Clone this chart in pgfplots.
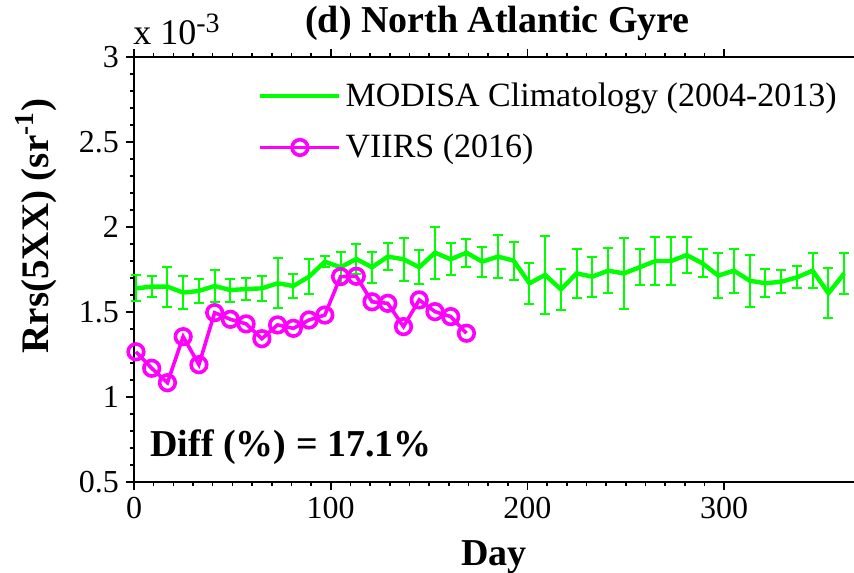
\documentclass[border=0pt]{standalone}
\usepackage{fontspec}
\setmainfont{Liberation Serif}
\usepackage{pgfplots}
\pgfplotsset{compat=1.18}
\usepackage{pgfplotstable}

\definecolor{climgreen}{RGB}{0,255,0}
\definecolor{viirsmag}{RGB}{255,0,255}

% MODISA 8-day climatology (2004-2013), Rrs in units of 1e-3 sr^-1, with std
\pgfplotstableread{
day rrs err
1   1.639 0.076
9   1.649 0.061
17  1.649 0.117
25  1.614 0.097
33  1.624 0.073
41  1.653 0.092
49  1.629 0.068
57  1.635 0.063
65  1.639 0.073
73  1.669 0.148
81  1.653 0.072
89  1.708 0.105
97  1.796 0.034
105 1.763 0.090
113 1.812 0.090
121 1.763 0.092
129 1.826 0.077
137 1.810 0.128
145 1.763 0.101
153 1.849 0.152
161 1.810 0.094
169 1.849 0.082
177 1.796 0.089
185 1.826 0.124
193 1.802 0.111
201 1.669 0.120
209 1.718 0.231
217 1.633 0.122
225 1.727 0.146
233 1.708 0.117
241 1.743 0.133
249 1.727 0.211
257 1.763 0.106
265 1.800 0.141
273 1.800 0.141
281 1.835 0.106
289 1.786 0.083
297 1.714 0.132
305 1.743 0.130
313 1.684 0.153
321 1.669 0.083
329 1.678 0.067
337 1.704 0.065
345 1.743 0.102
353 1.610 0.146
361 1.727 0.120
}\modisclim

% VIIRS 8-day composites, 2016
\pgfplotstableread{
day rrs
1   1.266
9   1.169
17  1.084
25  1.355
33  1.190
41  1.496
49  1.457
57  1.430
65  1.343
73  1.424
81  1.404
89  1.453
97  1.482
105 1.708
113 1.710
121 1.560
129 1.551
137 1.414
145 1.571
153 1.502
161 1.473
169 1.375
}\viirs

\begin{document}
\begin{tikzpicture}
\begin{axis}[
  scale only axis,
  width=360bp, height=212.5bp,
  xmin=0, xmax=366, ymin=0.5, ymax=3,
  axis x line=box, axis y line=left,
  axis line style={-, line width=1bp, black},
  xtick={0,100,200,300}, minor x tick num=9,
  ytick={0.5,1,1.5,2,2.5,3}, minor y tick num=4,
  tick align=outside,
  major tick length=4bp, minor tick length=2bp,
  every tick/.style={black, line width=0.8bp},
  tick label style={font=\fontsize{16bp}{18bp}\selectfont},
  /pgf/number format/assume math mode=true,
  clip=false,
  legend cell align=left,
  legend style={draw=none, fill=none,
    at={(axis description cs:0.172,0.95)}, anchor=north west,
    font=\fontsize{17bp}{19bp}\selectfont,
    row sep=8.5bp, inner sep=0pt},
  legend image code/.code={
    \draw[mark repeat=2, mark phase=2, #1]
      plot coordinates {(0bp,0bp) (19.75bp,0bp) (39.5bp,0bp)};
  },
]
\addplot[color=climgreen, draw=climgreen, line width=2.2bp,
  error bars/.cd, y dir=both, y explicit,
  error bar style={draw=climgreen, color=climgreen, line width=1bp},
  error mark options={rotate=90, mark size=2.5bp, draw=climgreen, color=climgreen, line width=1bp}]
  table[x=day, y=rrs, y error=err] {\modisclim};
\addlegendentry{MODISA Climatology (2004-2013)}

\addplot[viirsmag, line width=1.8bp, mark=o, mark size=3.9bp,
  mark options={line width=1.8bp}]
  table[x=day, y=rrs] {\viirs};
\addlegendentry{VIIRS (2016)}
\end{axis}

\node[anchor=base, font=\fontsize{19bp}{21bp}\selectfont\bfseries]
  at ([xshift=181.75bp, yshift=12bp]current axis.north west) {(d) North Atlantic Gyre};
\node[anchor=base west, inner sep=0pt, font=\fontsize{18bp}{20bp}\selectfont]
  at ([xshift=-0.5bp, yshift=6bp]current axis.north west) {x 10\textsuperscript{\fontsize{14bp}{16bp}\selectfont -3}};
\node[anchor=base west, inner sep=0pt, font=\fontsize{19bp}{21bp}\selectfont\bfseries]
  at ([xshift=8bp, yshift=13bp]current axis.south west) {Diff (\%) = 17.1\%};
\node[anchor=base, font=\fontsize{19bp}{21bp}\selectfont\bfseries]
  at ([xshift=180bp, yshift=-41.5bp]current axis.south west) {Day};
\node[rotate=90, anchor=center, font=\fontsize{19.5bp}{21bp}\selectfont\bfseries]
  at ([xshift=-49bp, yshift=128bp]current axis.south west) {Rrs(5XX) (sr\textsuperscript{-1})};

\pgfresetboundingbox
\path[use as bounding box]
  ([xshift=-67bp, yshift=-45.5bp]current axis.south west) rectangle
  ([yshift=28.5bp]current axis.north east);
\end{tikzpicture}
\end{document}
